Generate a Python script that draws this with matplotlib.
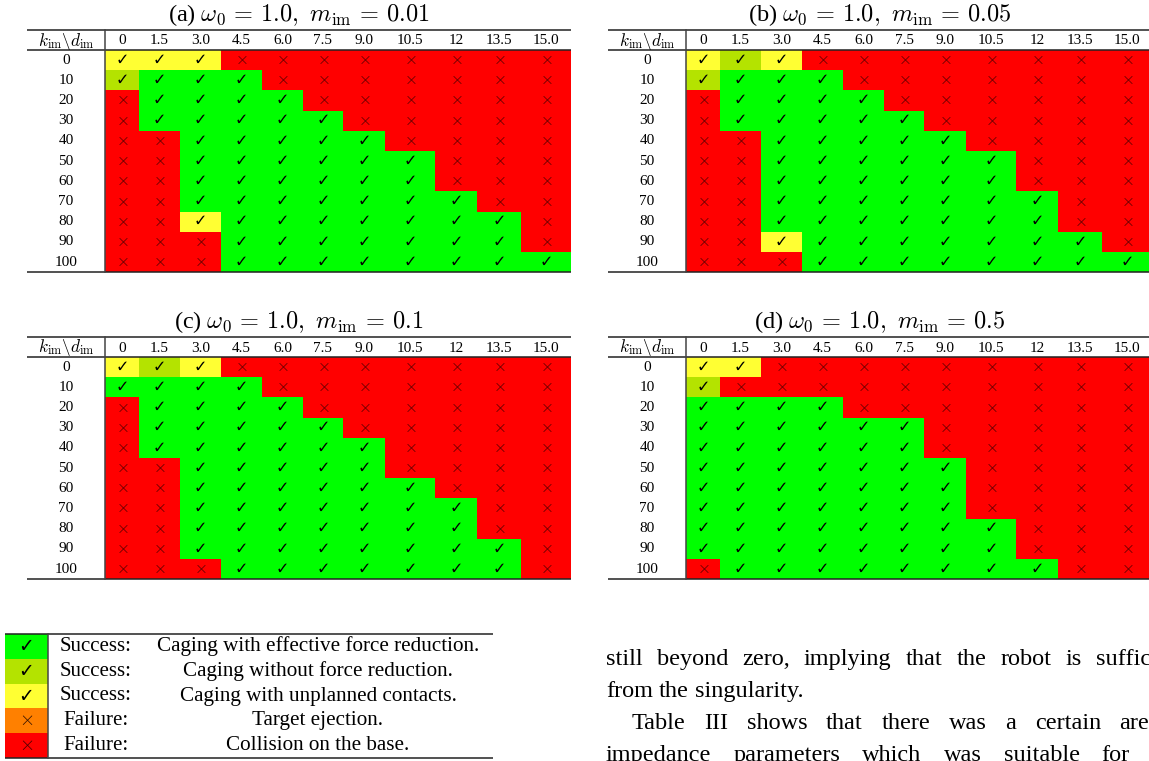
import matplotlib.pyplot as plt
from matplotlib.colors import ListedColormap
import numpy as np

plt.rcParams['font.family'] = ['Liberation Serif', 'DejaVu Sans']
plt.rcParams['mathtext.fontset'] = 'cm'

# column / row labels
d_im = ['0', '1.5', '3.0', '4.5', '6.0', '7.5', '9.0', '10.5', '12', '13.5', '15.0']
k_im = ['0', '10', '20', '30', '40', '50', '60', '70', '80', '90', '100']

# G: caging w/ effective force reduction, L: w/o force reduction,
# Y: unplanned contacts, O: target ejection, R: collision on base
table_a = [
    'YYYRRRRRRRR',
    'LGGGRRRRRRR',
    'RGGGGRRRRRR',
    'RGGGGGRRRRR',
    'RRGGGGGRRRR',
    'RRGGGGGGRRR',
    'RRGGGGGGRRR',
    'RRGGGGGGGRR',
    'RRYGGGGGGGR',
    'RRRGGGGGGGR',
    'RRRGGGGGGGG',
]
table_b = [
    'YLYRRRRRRRR',
    'LGGGRRRRRRR',
    'RGGGGRRRRRR',
    'RGGGGGRRRRR',
    'RRGGGGGRRRR',
    'RRGGGGGGRRR',
    'RRGGGGGGRRR',
    'RRGGGGGGGRR',
    'RRGGGGGGGRR',
    'RRYGGGGGGGR',
    'RRRGGGGGGGG',
]
table_c = [
    'YLYRRRRRRRR',
    'GGGGRRRRRRR',
    'RGGGGRRRRRR',
    'RGGGGGRRRRR',
    'RGGGGGGRRRR',
    'RRGGGGGRRRR',
    'RRGGGGGGRRR',
    'RRGGGGGGGRR',
    'RRGGGGGGGRR',
    'RRGGGGGGGGR',
    'RRRGGGGGGGR',
]
table_d = [
    'YYRRRRRRRRR',
    'LRRRRRRRRRR',
    'GGGGRRRRRRR',
    'GGGGGGRRRRR',
    'GGGGGGRRRRR',
    'GGGGGGGRRRR',
    'GGGGGGGRRRR',
    'GGGGGGGRRRR',
    'GGGGGGGGRRR',
    'GGGGGGGGRRR',
    'RGGGGGGGGRR',
]
titles = [
    r'(a) $\omega_0\,=\,1.0,\ m_{\rm im}\,=\,0.01$',
    r'(b) $\omega_0\,=\,1.0,\ m_{\rm im}\,=\,0.05$',
    r'(c) $\omega_0\,=\,1.0,\ m_{\rm im}\,=\,0.1$',
    r'(d) $\omega_0\,=\,1.0,\ m_{\rm im}\,=\,0.5$',
]

legend_codes = ['G', 'L', 'Y', 'O', 'R']
legend_kind = ['Success:', 'Success:', 'Success:', 'Failure:', 'Failure:']
legend_desc = ['Caging with effective force reduction.',
               'Caging without force reduction.',
               'Caging with unplanned contacts.',
               'Target ejection.',
               'Collision on the base.']

para_lines = ['still beyond zero, implying that the robot is sufficiently far',
              'from the singularity.',
              'Table III shows that there was a certain area of',
              'impedance parameters which was suitable for caging']

codes = 'GLYOR'
colors = ['#00ff00', '#b4e300', '#ffff33', '#ff8000', '#ff0000']
cmap = ListedColormap(colors)
sym_color = {'G': 'black', 'L': 'black', 'Y': 'black', 'O': '#3a1500', 'R': '#4a0000'}

fig = plt.figure(figsize=(11.49, 7.61), dpi=100)
ax = fig.add_axes([0, 0, 1, 1])
ax.set_xlim(0, 1149)
ax.set_ylim(761, 0)
ax.axis('off')
renderer = fig.canvas.get_renderer()

col_w = [34, 41, 41, 41, 41, 40, 42, 50, 42, 44, 50]
label_w = 78
head_h = 20
row_h = 20.2
rule = dict(color='#222222', lw=1.1, solid_capstyle='butt')


def symbol(x, y, c, size=11.5):
    if c in 'GLY':
        ax.text(x, y, '\u2713', ha='center', va='center', fontsize=size,
                family='DejaVu Sans', color=sym_color[c])
    else:
        ax.text(x, y, r'$\times$', ha='center', va='center', fontsize=size + 0.5,
                color=sym_color[c])


def draw_table(x0, y0, title, grid):
    xe = x0 + label_w + np.concatenate([[0], np.cumsum(col_w)])
    ye = y0 + head_h + row_h * np.arange(len(k_im) + 1)
    C = np.array([[codes.index(c) for c in row] for row in grid])
    ax.pcolormesh(xe, ye, C, cmap=cmap, vmin=-0.5, vmax=4.5, shading='flat')
    xc = (xe[:-1] + xe[1:]) / 2
    yc = (ye[:-1] + ye[1:]) / 2
    for i, row in enumerate(grid):
        ax.text(x0 + label_w / 2, yc[i], k_im[i], ha='center', va='center', fontsize=11)
        for j, c in enumerate(row):
            symbol(xc[j], yc[i], c)
    for j, lab in enumerate(d_im):
        ax.text(xc[j], y0 + head_h / 2 + 1, lab, ha='center', va='center', fontsize=11)
    ax.text(x0 + label_w / 2, y0 + head_h / 2 + 1,
            r'$k_{\rm im}\backslash d_{\rm im}$', ha='center', va='center', fontsize=12.5)
    ax.text((x0 + xe[-1]) / 2, y0 - 15, title, ha='center', va='center', fontsize=17.5)
    ax.plot([x0, xe[-1]], [y0, y0], **rule)
    ax.plot([x0, xe[-1]], [y0 + head_h, y0 + head_h], **rule)
    ax.plot([x0, xe[-1]], [ye[-1], ye[-1]], **rule)
    ax.plot([xe[0], xe[0]], [y0, ye[-1]], color='#444444', lw=1.1)


origins = [(27, 30), (608, 30), (27, 337), (608, 337)]
for (x0, y0), title, grid in zip(origins, titles, [table_a, table_b, table_c, table_d]):
    draw_table(x0, y0, title, grid)

# legend table
lx0, ly0, lrow, lcell, lx1 = 5, 634, 24.8, 43, 493
lye = ly0 + lrow * np.arange(len(legend_codes) + 1)
LC = np.array([[codes.index(c)] for c in legend_codes])
ax.pcolormesh([lx0, lx0 + lcell], lye, LC, cmap=cmap, vmin=-0.5, vmax=4.5, shading='flat')
for i, c in enumerate(legend_codes):
    yc = (lye[i] + lye[i + 1]) / 2
    symbol(lx0 + lcell / 2, yc, c, size=13.5)
    ax.text(96, yc, legend_kind[i], ha='center', va='center', fontsize=15)
    ax.text(318, yc, legend_desc[i], ha='center', va='center', fontsize=15.2)
ax.plot([lx0, lx1], [ly0, ly0], **rule)
ax.plot([lx0, lx1], [lye[-1], lye[-1]], **rule)
ax.plot([lx0 + lcell, lx0 + lcell], [ly0, lye[-1]], color='#444444', lw=1.1)

# body text on the right (justified lines get stretched word spacing)
para_x = [606, 606, 632, 606]
para_y = [665, 697, 729, 761]
para_stretch = [8, 0, 12.5, 16]
para_size = 17.5
for x, y, extra, line in zip(para_x, para_y, para_stretch, para_lines):
    space = para_size * 100 / 72 * 0.25 + extra
    for word in line.split():
        t = ax.text(x, y, word, ha='left', va='baseline', fontsize=para_size)
        x += t.get_window_extent(renderer).width + space

fig.savefig('out.png', dpi=100)
